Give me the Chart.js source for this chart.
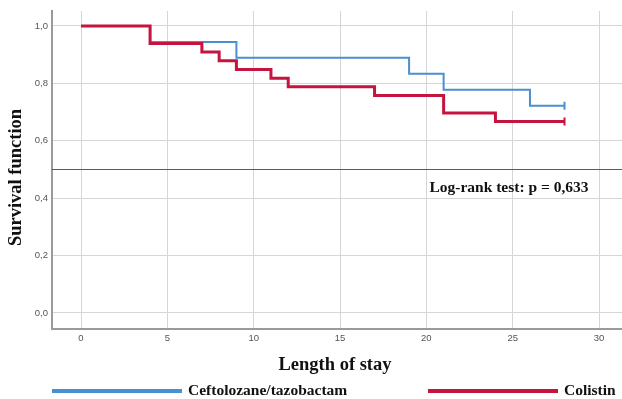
<!DOCTYPE html>
<html>
<head>
<meta charset="utf-8">
<script src="https://cdn.jsdelivr.net/npm/chart.js@4.4.1/dist/chart.umd.min.js"></script>
<style>
  html, body { margin: 0; padding: 0; background: #fff; }
  #wrap { width: 622px; height: 399px; }
</style>
</head>
<body>
<div id="wrap"><canvas id="kmChart" width="622" height="399"></canvas></div>
<script>
// survival data
const seriesNames = ['Ceftolozane/tazobactam', 'Colistin'];
const ceftoDays = [0, 4, 9, 19, 21, 26, 28];
const ceftoSurv = [1.0, 0.944, 0.889, 0.833, 0.778, 0.722, 0.722];
const colistinDays = [0, 4, 7, 8, 9, 11, 12, 17, 21, 24, 28];
const colistinSurv = [1.0, 0.939, 0.909, 0.879, 0.848, 0.818, 0.788, 0.758, 0.697, 0.667, 0.667];
const xTicks = [0, 5, 10, 15, 20, 25, 30];
const yTicks = [0, 0.2, 0.4, 0.6, 0.8, 1.0];
const refLine = 0.5;
const logRankText = 'Log-rank test: p = 0,633';
const xTitle = 'Length of stay';
const yTitle = 'Survival function';

const blue = '#4b8fd3';
const red = '#c4143f';
const serif = '"Liberation Serif", "Times New Roman", serif';

function toPoints(xs, ys) {
    return xs.map((x, i) => ({ x: x, y: ys[i] }));
}
// only the last point (censor mark) gets a marker
function censorRadius(xs) {
    return xs.map((x, i) => i === xs.length - 1 ? 4 : 0);
}

const extras = {
    id: 'extras',
    beforeDatasetsDraw(chart) {
        const ctx = chart.ctx;
        const area = chart.chartArea;
        const y = chart.scales.y.getPixelForValue(refLine);
        ctx.save();
        ctx.strokeStyle = '#5a5a5a';
        ctx.lineWidth = 1;
        ctx.beginPath();
        ctx.moveTo(area.left, Math.round(y) + 0.5);
        ctx.lineTo(area.right, Math.round(y) + 0.5);
        ctx.stroke();
        ctx.restore();
    },
    afterDraw(chart) {
        const ctx = chart.ctx;
        ctx.save();
        ctx.fillStyle = '#111';
        ctx.textBaseline = 'middle';

        ctx.font = 'bold 15.5px ' + serif;
        ctx.textAlign = 'center';
        ctx.fillText(logRankText, 509, 188);

        ctx.font = 'bold 18.5px ' + serif;
        ctx.fillText(xTitle, 335, 365);

        ctx.save();
        ctx.translate(16, 177.5);
        ctx.rotate(-Math.PI / 2);
        ctx.font = 'bold 18.5px ' + serif;
        ctx.fillText(yTitle, 0, 0);
        ctx.restore();

        // legend
        const legend = [
            { x: 52, color: blue, label: seriesNames[0] },
            { x: 428, color: red, label: seriesNames[1] }
        ];
        ctx.font = 'bold 15.5px ' + serif;
        ctx.textAlign = 'left';
        legend.forEach((item) => {
            ctx.fillStyle = item.color;
            ctx.fillRect(item.x, 389, 130, 4);
            ctx.fillStyle = '#111';
            ctx.fillText(item.label, item.x + 136, 391);
        });
        ctx.restore();
    }
};

const ctx = document.getElementById('kmChart').getContext('2d');
const kmChart = new Chart(ctx, {
    type: 'line',
    data: {
        datasets: [{
            label: seriesNames[0],
            data: toPoints(ceftoDays, ceftoSurv),
            borderColor: blue,
            backgroundColor: blue,
            borderWidth: 2,
            stepped: true,
            pointStyle: 'line',
            rotation: 90,
            pointRadius: censorRadius(ceftoDays),
            pointBorderWidth: 2,
            order: 2,
        }, {
            label: seriesNames[1],
            data: toPoints(colistinDays, colistinSurv),
            borderColor: red,
            backgroundColor: red,
            borderWidth: 3,
            stepped: true,
            pointStyle: 'line',
            rotation: 90,
            pointRadius: censorRadius(colistinDays),
            pointBorderWidth: 2,
            order: 1,
        }],
    },
    plugins: [extras],
    options: {
        responsive: false,
        animation: false,
        layout: { autoPadding: false, padding: { top: 11, left: 0, right: 0, bottom: 0 } },
        plugins: {
            legend: { display: false },
            tooltip: { enabled: false },
        },
        scales: {
            x: {
                type: 'linear',
                min: -1.68,
                max: 31.33,
                afterBuildTicks: (scale) => { scale.ticks = xTicks.map((v) => ({ value: v })); },
                afterFit: (scale) => { scale.height = 70; },
                grid: { color: '#d6d6d6', lineWidth: 1, drawTicks: false },
                border: { color: '#9a9a9a', width: 2 },
                ticks: {
                    padding: 4,
                    color: '#555',
                    font: { family: '"Liberation Sans", Arial, sans-serif', size: 9.5 },
                    maxRotation: 0,
                },
            },
            y: {
                type: 'linear',
                min: -0.056,
                max: 1.052,
                afterBuildTicks: (scale) => { scale.ticks = yTicks.map((v) => ({ value: v })); },
                afterFit: (scale) => { scale.width = 52; },
                grid: { color: '#d6d6d6', lineWidth: 1, drawTicks: false },
                border: { color: '#9a9a9a', width: 2 },
                ticks: {
                    padding: 4,
                    color: '#555',
                    font: { family: '"Liberation Sans", Arial, sans-serif', size: 9.5 },
                    callback: (v) => Number(v).toFixed(1).replace('.', ','),
                },
            },
        },
    },
});
</script>
</body>
</html>
